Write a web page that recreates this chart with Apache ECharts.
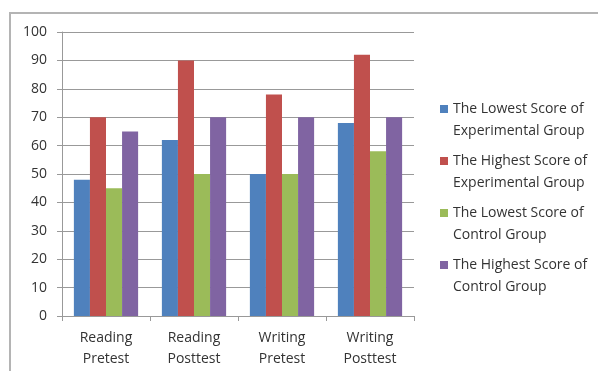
<!DOCTYPE html>
<html>
<head>
<meta charset="utf-8">
<script src="https://cdn.jsdelivr.net/npm/echarts@6/dist/echarts.min.js"></script>
<style>
  html, body { margin: 0; padding: 0; background: #fff; }
  #chart { width: 598px; height: 371px; }
</style>
</head>
<body>
<div id="chart"></div>
<script>
// categories (two-line labels) and one array per series
const categories = ['Reading\nPretest', 'Reading\nPosttest', 'Writing\nPretest', 'Writing\nPosttest']
const seriesNames = [
  'The Lowest Score of Experimental Group',
  'The Highest Score of Experimental Group',
  'The Lowest Score of Control Group',
  'The Highest Score of Control Group'
]
const legendLines = {
  'The Lowest Score of Experimental Group': ['The Lowest Score of', 'Experimental Group'],
  'The Highest Score of Experimental Group': ['The Highest Score of', 'Experimental Group'],
  'The Lowest Score of Control Group': ['The Lowest Score of', 'Control Group'],
  'The Highest Score of Control Group': ['The Highest Score of', 'Control Group']
}
const lowestExp = [48, 62, 50, 68]
const highestExp = [70, 90, 78, 92]
const lowestCtrl = [45, 50, 50, 58]
const highestCtrl = [65, 70, 70, 70]

const colors = ['#4f81bd', '#c0504d', '#9bbb59', '#8064a2']
const fontFamily = '"Open Sans", "Liberation Sans", sans-serif'

const chart = echarts.init(document.getElementById('chart'), null, { renderer: 'canvas' })

function bar(name, data, color) {
  return {
    name: name,
    type: 'bar',
    data: data,
    barGap: '0%',
    barCategoryGap: '27%',
    itemStyle: { color: color },
    emphasis: { disabled: true }
  }
}

const option = {
  backgroundColor: '#fff',
  animation: false,
  color: colors,
  // chart frame (only top & left visible in the picture)
  graphic: [{
    type: 'rect',
    shape: { x: 10, y: 13, width: 640, height: 400 },
    style: { fill: 'none', stroke: '#b4b4b4', lineWidth: 2 },
    silent: true,
    z: -1
  }],
  grid: {
    left: 62,
    right: 184,
    top: 32,
    bottom: 55
  },
  legend: {
    orient: 'vertical',
    left: 435,
    top: 71,
    itemWidth: 8,
    itemHeight: 8,
    itemGap: -14,
    icon: 'rect',
    selectedMode: false,
    // blank first line keeps the square level with the first text line
    formatter: (name) => '\u00a0\n' + legendLines[name].join('\n'),
    textStyle: {
      fontFamily: fontFamily,
      fontSize: 14,
      color: '#333',
      lineHeight: 22
    },
    data: seriesNames
  },
  xAxis: {
    type: 'category',
    data: categories,
    axisLine: { lineStyle: { color: '#999' } },
    axisTick: { show: true, length: 5, lineStyle: { color: '#999' } },
    axisLabel: {
      fontFamily: fontFamily,
      fontSize: 14,
      color: '#333',
      lineHeight: 21,
      margin: 12
    }
  },
  yAxis: {
    type: 'value',
    min: 0,
    max: 100,
    interval: 10,
    axisLine: { show: true, lineStyle: { color: '#999' } },
    axisTick: { show: true, length: 5, lineStyle: { color: '#999' } },
    splitLine: { lineStyle: { color: '#999' } },
    axisLabel: {
      fontFamily: fontFamily,
      fontSize: 14,
      color: '#333',
      margin: 15
    }
  },
  series: [
    bar(seriesNames[0], lowestExp, colors[0]),
    bar(seriesNames[1], highestExp, colors[1]),
    bar(seriesNames[2], lowestCtrl, colors[2]),
    bar(seriesNames[3], highestCtrl, colors[3])
  ]
}

chart.setOption(option)
</script>
</body>
</html>
